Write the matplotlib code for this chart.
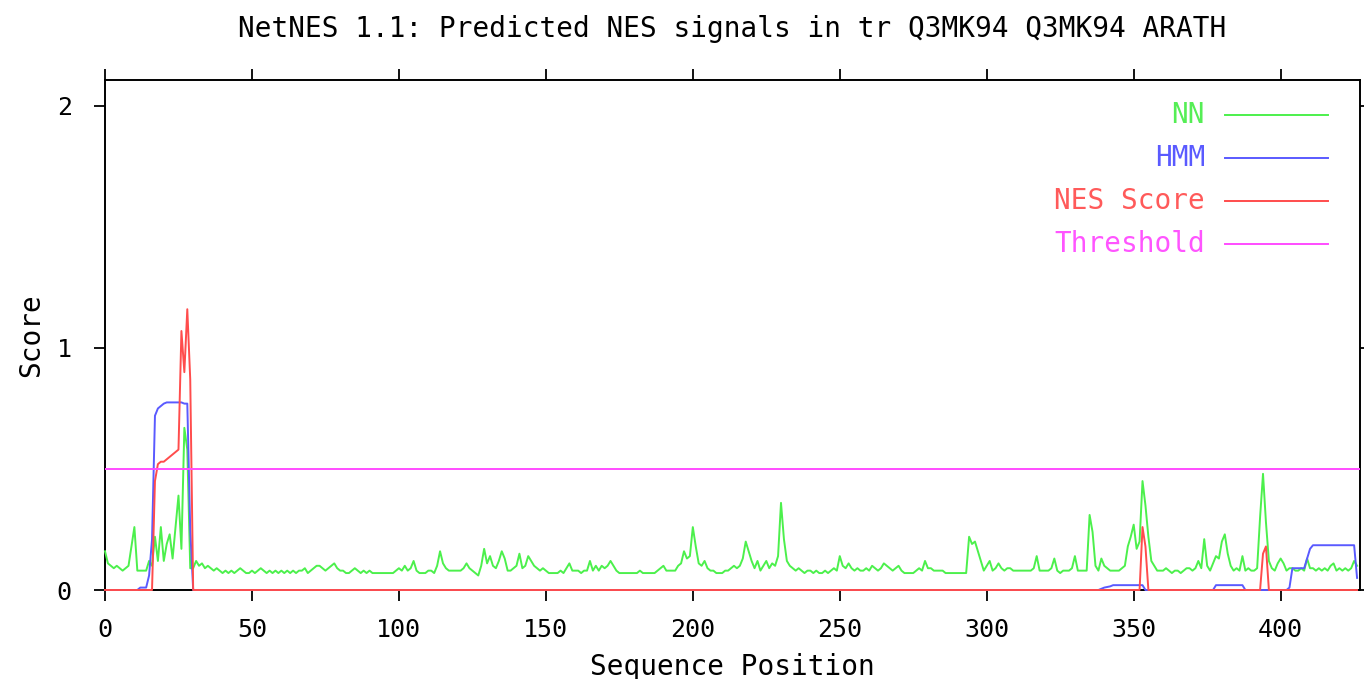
import matplotlib
matplotlib.use("Agg")
import matplotlib.pyplot as plt
import numpy as np

title = "NetNES 1.1: Predicted NES signals in tr Q3MK94 Q3MK94 ARATH"
x_label = "Sequence Position"
y_label = "Score"
x_ticks = [0, 50, 100, 150, 200, 250, 300, 350, 400]
y_ticks = [0, 1, 2]
threshold = 0.5

# NN score per sequence position (0..426)
nn = [
    0.16, 0.11, 0.10, 0.09, 0.10, 0.09, 0.08, 0.09, 0.10, 0.18,
    0.26, 0.08, 0.08, 0.08, 0.08, 0.12, 0.10, 0.22, 0.12, 0.26,
    0.12, 0.19, 0.23, 0.13, 0.26, 0.39, 0.17, 0.67, 0.58, 0.09,
    0.09, 0.12, 0.10, 0.11, 0.09, 0.10, 0.09, 0.08, 0.09, 0.08,
    0.07, 0.08, 0.07, 0.08, 0.07, 0.08, 0.09, 0.08, 0.07, 0.07,
    0.08, 0.07, 0.08, 0.09, 0.08, 0.07, 0.08, 0.07, 0.08, 0.07,
    0.08, 0.07, 0.08, 0.07, 0.08, 0.07, 0.08, 0.08, 0.09, 0.07,
    0.08, 0.09, 0.10, 0.10, 0.09, 0.08, 0.09, 0.10, 0.11, 0.09,
    0.08, 0.08, 0.07, 0.07, 0.08, 0.09, 0.08, 0.07, 0.08, 0.07,
    0.08, 0.07, 0.07, 0.07, 0.07, 0.07, 0.07, 0.07, 0.07, 0.08,
    0.09, 0.08, 0.10, 0.08, 0.09, 0.12, 0.08, 0.07, 0.07, 0.07,
    0.08, 0.08, 0.07, 0.10, 0.16, 0.11, 0.09, 0.08, 0.08, 0.08,
    0.08, 0.08, 0.09, 0.11, 0.09, 0.08, 0.07, 0.06, 0.10, 0.17,
    0.11, 0.14, 0.10, 0.09, 0.12, 0.16, 0.13, 0.08, 0.08, 0.09,
    0.10, 0.15, 0.09, 0.10, 0.14, 0.12, 0.10, 0.09, 0.08, 0.09,
    0.08, 0.07, 0.07, 0.07, 0.07, 0.08, 0.07, 0.09, 0.11, 0.08,
    0.08, 0.08, 0.07, 0.08, 0.08, 0.12, 0.08, 0.10, 0.08, 0.10,
    0.09, 0.10, 0.12, 0.10, 0.08, 0.07, 0.07, 0.07, 0.07, 0.07,
    0.07, 0.07, 0.08, 0.07, 0.07, 0.07, 0.07, 0.07, 0.08, 0.09,
    0.10, 0.08, 0.08, 0.08, 0.08, 0.10, 0.11, 0.16, 0.13, 0.14,
    0.26, 0.18, 0.11, 0.10, 0.12, 0.09, 0.08, 0.08, 0.07, 0.07,
    0.07, 0.08, 0.08, 0.09, 0.10, 0.09, 0.10, 0.13, 0.20, 0.16,
    0.12, 0.09, 0.12, 0.08, 0.10, 0.12, 0.09, 0.11, 0.10, 0.14,
    0.36, 0.21, 0.12, 0.10, 0.09, 0.08, 0.09, 0.08, 0.07, 0.08,
    0.08, 0.07, 0.08, 0.07, 0.07, 0.08, 0.07, 0.08, 0.09, 0.08,
    0.14, 0.10, 0.09, 0.11, 0.09, 0.08, 0.09, 0.08, 0.08, 0.09,
    0.08, 0.10, 0.09, 0.08, 0.09, 0.11, 0.10, 0.09, 0.08, 0.09,
    0.10, 0.08, 0.07, 0.07, 0.07, 0.07, 0.08, 0.09, 0.08, 0.12,
    0.09, 0.09, 0.08, 0.08, 0.08, 0.08, 0.07, 0.07, 0.07, 0.07,
    0.07, 0.07, 0.07, 0.07, 0.22, 0.19, 0.20, 0.16, 0.12, 0.08,
    0.10, 0.12, 0.08, 0.09, 0.11, 0.09, 0.08, 0.09, 0.09, 0.08,
    0.08, 0.08, 0.08, 0.08, 0.08, 0.08, 0.09, 0.14, 0.08, 0.08,
    0.08, 0.08, 0.09, 0.13, 0.08, 0.07, 0.08, 0.08, 0.08, 0.09,
    0.14, 0.08, 0.08, 0.08, 0.08, 0.31, 0.24, 0.10, 0.08, 0.13,
    0.10, 0.09, 0.08, 0.08, 0.08, 0.08, 0.09, 0.10, 0.18, 0.22,
    0.27, 0.17, 0.20, 0.45, 0.35, 0.22, 0.12, 0.10, 0.08, 0.08,
    0.08, 0.09, 0.08, 0.07, 0.08, 0.08, 0.07, 0.08, 0.09, 0.09,
    0.08, 0.09, 0.12, 0.09, 0.21, 0.10, 0.08, 0.11, 0.14, 0.13,
    0.20, 0.23, 0.15, 0.10, 0.08, 0.09, 0.08, 0.14, 0.08, 0.09,
    0.08, 0.08, 0.09, 0.30, 0.48, 0.28, 0.12, 0.09, 0.08, 0.11,
    0.13, 0.11, 0.08, 0.09, 0.09, 0.08, 0.08, 0.09, 0.08, 0.13,
    0.09, 0.09, 0.08, 0.09, 0.08, 0.09, 0.08, 0.10, 0.11, 0.08,
    0.09, 0.08, 0.09, 0.08, 0.09, 0.12, 0.10,
]

# HMM score: (position, value) points; zero between listed points
hmm_pos = [0, 11, 12, 13, 14, 15, 16, 17, 18, 19, 20, 21, 26, 27, 28, 29, 30,
           338, 339, 340, 342, 343, 353, 354,
           377, 378, 387, 388,
           402, 403, 404, 408, 409, 410, 411, 425, 426]
hmm_val = [0.0, 0.0, 0.01, 0.01, 0.01, 0.06, 0.21, 0.72, 0.75, 0.76, 0.77, 0.775, 0.775, 0.77, 0.77, 0.25, 0.0,
           0.0, 0.005, 0.01, 0.015, 0.02, 0.02, 0.0,
           0.0, 0.02, 0.02, 0.0,
           0.0, 0.01, 0.09, 0.09, 0.13, 0.17, 0.185, 0.185, 0.05]

# NES score: (position, value) points; zero between listed points
nes_pos = [0, 16, 17, 18, 19, 20, 21, 22, 23, 24, 25, 26, 27, 28, 29, 30,
           352, 353, 354, 355,
           393, 394, 395, 396, 426]
nes_val = [0.0, 0.0, 0.45, 0.52, 0.53, 0.53, 0.54, 0.55, 0.56, 0.57, 0.58, 1.07, 0.90, 1.16, 0.87, 0.0,
           0.0, 0.26, 0.18, 0.0,
           0.0, 0.15, 0.18, 0.0, 0.0]

series_labels = ["NN", "HMM", "NES Score", "Threshold"]
line_colors = ["#4cf04c", "#5a5aff", "#ff4c4c", "#ff4cff"]
text_colors = ["#55ee55", "#5a5aff", "#ff5a5a", "#ff55ff"]

W, H = 1364, 679
fig = plt.figure(figsize=(W / 100, H / 100), dpi=100)
ax = fig.add_axes([105 / W, 1 - 590 / H, (1360 - 105) / W, (590 - 80) / H])

FONT = "DejaVu Sans Mono"
FS = 20
FS_TICK = 18
lw = 1.4

x_nn = np.arange(len(nn))
ax.plot(x_nn, nn, color=line_colors[0], lw=lw, clip_on=False, zorder=3)
ax.plot(hmm_pos, hmm_val, color=line_colors[1], lw=lw, clip_on=False, zorder=4)
ax.plot(nes_pos, nes_val, color=line_colors[2], lw=lw, clip_on=False, zorder=5)
ax.axhline(threshold, color=line_colors[3], lw=lw, zorder=6)

ax.set_xlim(0, 427)
ax.set_ylim(0, 2.107)
ax.set_xticks(x_ticks)
ax.set_yticks(y_ticks)
ax.set_xticklabels([str(t) for t in x_ticks], fontfamily=FONT, fontsize=FS_TICK)
ax.set_yticklabels([str(t) for t in y_ticks], fontfamily=FONT, fontsize=FS_TICK)
ax.tick_params(axis="both", direction="out", length=8, width=1.3, color="black",
               top=True, right=True, labeltop=False, labelright=False)
ax.tick_params(axis="x", pad=12)
ax.tick_params(axis="y", pad=16)
for s in ax.spines.values():
    s.set_linewidth(1.4)
    s.set_color("black")
    s.set_zorder(2)

fig.text(732 / W, 1 - 29 / H, title, ha="center", va="center", fontfamily=FONT, fontsize=FS)
fig.text(732 / W, 1 - 667 / H, x_label, ha="center", va="center", fontfamily=FONT, fontsize=FS)
fig.text(31 / W, 1 - 335 / H, y_label, ha="center", va="center", rotation=90, fontfamily=FONT, fontsize=FS)

# legend (manual, gnuplot style)
rows_y = [115, 158, 201, 244]
for lab, lc, tc, ry in zip(series_labels, line_colors, text_colors, rows_y):
    yf = (590 - ry) / 510
    ax.text((1205 - 105) / 1255, yf, lab, transform=ax.transAxes, ha="right", va="center",
            color=tc, fontfamily=FONT, fontsize=FS)
    ax.plot([(1225 - 105) / 1255, (1328 - 105) / 1255], [yf, yf], transform=ax.transAxes,
            color=lc, lw=lw)

fig.savefig("out.png", dpi=100)
